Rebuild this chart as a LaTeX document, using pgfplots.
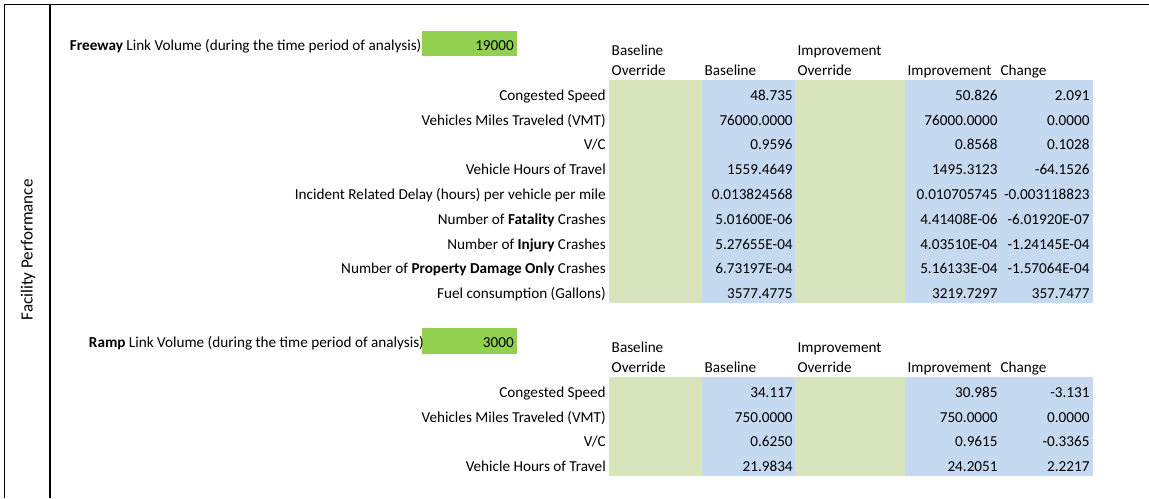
\documentclass[border=0pt]{standalone}
\usepackage{fontspec}
\setmainfont{Carlito}
\usepackage{pgfplots}
\usepackage{pgfplotstable}
\pgfplotsset{compat=1.18}
\definecolor{bgreen}{HTML}{92D050}
\definecolor{lgreen}{HTML}{D8E4BC}
\definecolor{lblue}{HTML}{C5D9F1}
\protected\def\B#1{\textbf{#1}}
\newcommand\fs{\fontsize{11.4}{13}\selectfont}
\pgfplotsset{
  txt/.style={draw=none, mark=none, point meta=explicit symbolic,
    nodes near coords, nodes near coords align={anchor=#1},
    nodes near coords style={anchor=#1, inner sep=0pt, outer sep=0pt, font=\fs, text=black}},
}
\begin{document}
\begin{tikzpicture}
\begin{axis}[hide axis, scale only axis, width=861.75pt, height=373.5pt,
  xmin=0, xmax=1149, ymin=0, ymax=498, y dir=reverse, clip=false]
\path (axis cs:0,0) rectangle (axis cs:1149,498);
% borders
\addplot[black, line width=0.75pt] coordinates {(4.5,498) (4.5,5) (1149,5)};
\addplot[black, line width=1.6pt] coordinates {(50,5) (50,498)};
% ---------- Freeway cells
\addplot[fill=bgreen, draw=none] coordinates {(422,31) (517,31) (517,56) (422,56)};
\addplot[fill=lgreen, draw=none] coordinates {(609,80) (702,80) (702,303) (609,303)};
\addplot[fill=lblue, draw=none] coordinates {(702,80) (795,80) (795,303) (702,303)};
\addplot[fill=lgreen, draw=none] coordinates {(795,80) (905,80) (905,303) (795,303)};
\addplot[fill=lblue, draw=none] coordinates {(905,80) (1093,80) (1093,303) (905,303)};
% ---------- Ramp cells
\addplot[fill=bgreen, draw=none] coordinates {(422,328) (517,328) (517,354) (422,354)};
\addplot[fill=lgreen, draw=none] coordinates {(609,377) (702,377) (702,476) (609,476)};
\addplot[fill=lblue, draw=none] coordinates {(702,377) (795,377) (795,476) (702,476)};
\addplot[fill=lgreen, draw=none] coordinates {(795,377) (905,377) (905,476) (795,476)};
\addplot[fill=lblue, draw=none] coordinates {(905,377) (1093,377) (1093,476) (905,476)};
% ---------- titles (left aligned)
\addplot[txt=base west] table[col sep=semicolon, row sep=\\, meta=label] {
x;y;label\\
70;51;\B{Freeway} Link Volume (during the time period of analysis)\\
89;348;\B{Ramp} Link Volume (during the time period of analysis)\\
612;56;Baseline\\
612;76;Override\\
705;76;Baseline\\
798;56;Improvement\\
798;76;Override\\
908;76;Improvement\\
1001;76;Change\\
612;353;Baseline\\
612;373;Override\\
705;373;Baseline\\
798;353;Improvement\\
798;373;Override\\
908;373;Improvement\\
1001;373;Change\\
};
% ---------- row labels and values (right aligned)
\addplot[txt=base east] table[col sep=semicolon, row sep=\\, meta=label] {
x;y;label\\
514;51;19000\\
514;348;3000\\
606;100.5;Congested Speed\\
606;125.3;Vehicles Miles Traveled (VMT)\\
606;150;V/C\\
606;174.8;Vehicle Hours of Travel\\
606;199.6;Incident Related Delay (hours) per vehicle per mile\\
606;224.4;Number of \B{Fatality} Crashes\\
606;249.2;Number of \B{Injury} Crashes\\
606;273.9;Number of \B{Property Damage Only} Crashes\\
606;298.7;Fuel consumption (Gallons)\\
606;397.5;Congested Speed\\
606;422.2;Vehicles Miles Traveled (VMT)\\
606;447;V/C\\
606;471.7;Vehicle Hours of Travel\\
};
% Freeway Baseline
\addplot[txt=base east] table[col sep=semicolon, row sep=\\, meta=label] {
x;y;label\\
793;100.5;48.735\\
793;125.3;76000.0000\\
793;150;0.9596\\
793;174.8;1559.4649\\
793;199.6;0.013824568\\
793;224.4;5.01600E-06\\
793;249.2;5.27655E-04\\
793;273.9;6.73197E-04\\
793;298.7;3577.4775\\
};
% Freeway Improvement
\addplot[txt=base east] table[col sep=semicolon, row sep=\\, meta=label] {
x;y;label\\
998;100.5;50.826\\
998;125.3;76000.0000\\
998;150;0.8568\\
998;174.8;1495.3123\\
998;199.6;0.010705745\\
998;224.4;4.41408E-06\\
998;249.2;4.03510E-04\\
998;273.9;5.16133E-04\\
998;298.7;3219.7297\\
};
% Freeway Change
\addplot[txt=base east] table[col sep=semicolon, row sep=\\, meta=label] {
x;y;label\\
1090;100.5;2.091\\
1090;125.3;0.0000\\
1090;150;0.1028\\
1090;174.8;-64.1526\\
1090;199.6;-0.003118823\\
1090;224.4;-6.01920E-07\\
1090;249.2;-1.24145E-04\\
1090;273.9;-1.57064E-04\\
1090;298.7;357.7477\\
};
% Ramp values
\addplot[txt=base east] table[col sep=semicolon, row sep=\\, meta=label] {
x;y;label\\
793;397.5;34.117\\
793;422.2;750.0000\\
793;447;0.6250\\
793;471.7;21.9834\\
998;397.5;30.985\\
998;422.2;750.0000\\
998;447;0.9615\\
998;471.7;24.2051\\
1090;397.5;-3.131\\
1090;422.2;0.0000\\
1090;447;-0.3365\\
1090;471.7;2.2217\\
};
\node[rotate=90, font=\fontsize{12.8}{14}\selectfont, inner sep=0pt] at (axis cs:28,250) {Facility Performance};
\end{axis}
\end{tikzpicture}
\end{document}
